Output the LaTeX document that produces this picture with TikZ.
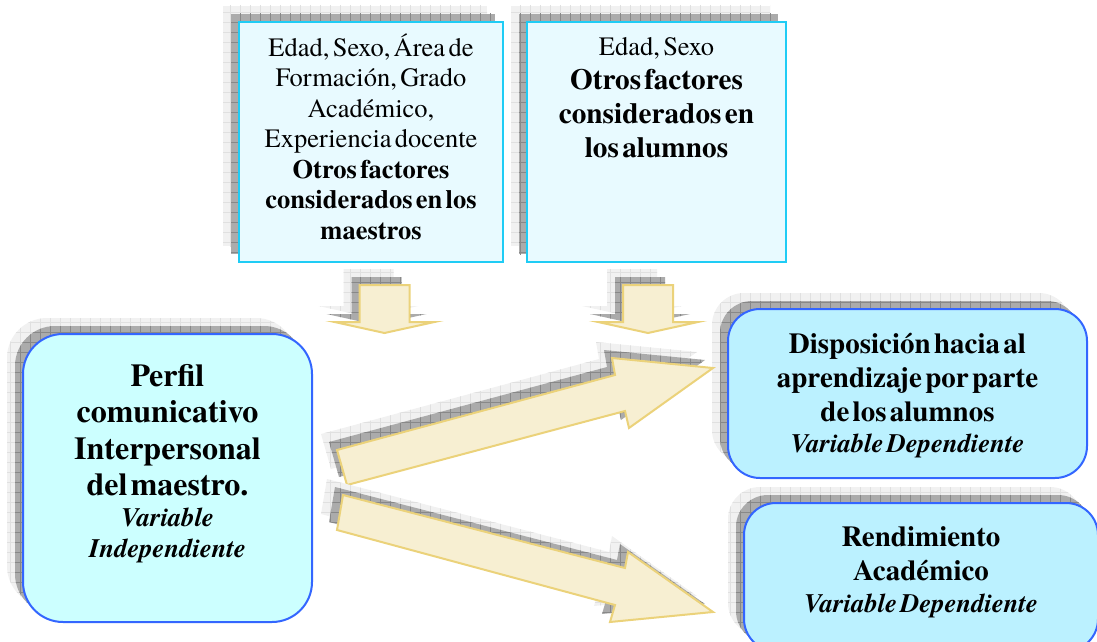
\documentclass[tikz,border=0pt]{standalone}
\usepackage{fontspec}
\setmainfont{texgyretermes}[Extension=.otf,UprightFont=*-regular,BoldFont=*-bold,ItalicFont=*-italic,BoldItalicFont=*-bolditalic,WordSpace=1.25]
\usepackage{tikz}
\usetikzlibrary{shadows}
\usepackage{xcolor}
\usetikzlibrary{patterns.meta}
\usetikzlibrary {arrows.meta,positioning,calc}
\definecolor{FactorBackground}{HTML}{E8FAFF}
\definecolor{FactorBorder}{HTML}{1FCCF5}
\definecolor{PerfilBackground}{HTML}{CCFFFF}
\definecolor{VariableBackground}{HTML}{BBF1FF}
\definecolor{VariableBorder}{HTML}{3366FF}
\definecolor{ArrowBackground}{HTML}{F7EFD2}
\definecolor{ArrowBorder}{HTML}{EBD27A}
\definecolor{ShadowLight}{HTML}{F1F1F1}
\definecolor{ShadowLightGrid}{HTML}{E0E0E0}
\definecolor{ShadowDark}{HTML}{ABABAB}
\definecolor{ShadowDarkGrid}{HTML}{888888}
\newcommand{\FactorSize}{\fontsize{26.5pt}{30.5pt}\selectfont}
\newcommand{\AlumnosSize}{\fontsize{29.3pt}{34pt}\selectfont}
\newcommand{\PerfilSize}{\fontsize{32pt}{36.5pt}\selectfont}
\newcommand{\VariableSize}{\fontsize{29pt}{34pt}\selectfont}
\newcommand{\LabelSize}{\fontsize{26.6pt}{31pt}\selectfont}
\tikzstyle{GridShadow} =[general shadow={fill=ShadowLight,shadow xshift=-16pt,shadow yshift=16pt},
    general shadow={pattern={Hatch[angle=0,distance=10pt,line width=0.6pt]},pattern color=ShadowLightGrid,shadow xshift=-16pt,shadow yshift=16pt},
    general shadow={fill=ShadowDark,shadow xshift=-8pt,shadow yshift=8pt},
    general shadow={pattern={Hatch[angle=0,distance=10pt,line width=0.6pt]},pattern color=ShadowDarkGrid,shadow xshift=-8pt,shadow yshift=8pt}]
\tikzstyle{FactorBox} =[draw=FactorBorder,line width=2pt,fill=FactorBackground,minimum height=240pt,inner sep=0pt,GridShadow]
\tikzstyle{VariableBox} =[draw=VariableBorder,line width=2pt,fill=VariableBackground,rounded corners=32pt,inner sep=0pt,GridShadow]
\tikzstyle{BlockArrow} =[draw=ArrowBorder,line width=2pt,fill=ArrowBackground,GridShadow]
\tikzstyle{BoxText} =[anchor=base,align=center,inner sep=0pt]

\begin{document}
\begin{tikzpicture}[x=1pt,y=-1pt,semithick]
    \path[use as bounding box,clip] (0,0) rectangle (1097,642);

    % factor boxes on top
    \node[FactorBox,minimum width=264pt](Maestros-Factors) at (371,142){};
    \node[FactorBox,minimum width=259pt](Alumnos-Factors) at (656.5,142){};
    \node[BoxText,text width=258pt](Maestros-Text) at ($(Maestros-Factors.north)+(0,35.3)$){\FactorSize Edad, Sexo, Área de\\ Formación, Grado\\ Académico,\\ Experiencia docente\\ \bfseries Otros factores\\ considerados en los\\ maestros\par};
    \node[BoxText,text width=255pt](Alumnos-Text) at ($(Alumnos-Factors.north)+(0,35)$){{\FactorSize Edad, Sexo\par}{\AlumnosSize\bfseries Otros factores\\ considerados en\\ los alumnos\par}};

    % variables
    \node[VariableBox,fill=PerfilBackground,rounded corners=40pt,minimum width=289pt,minimum height=288pt](Perfil-Box) at (167.5,478){};
    \node[VariableBox,minimum width=359pt,minimum height=169pt](Disposicion-Box) at (907.5,393.5){};
    \node[VariableBox,minimum width=354pt,minimum height=148pt](Rendimiento-Box) at (921,577){};
    \node[BoxText,text width=280pt](Perfil-Text) at ($(Perfil-Box.north)+(0,53)$){{\PerfilSize\bfseries Perfil\\ comunicativo\\ Interpersonal\\ del maestro.\par}{\LabelSize\bfseries\itshape Variable\\ Independiente\par}};
    \node[BoxText,text width=345pt](Disposicion-Text) at ($(Disposicion-Box.north)+(0,45)$){{\VariableSize\bfseries Disposición hacia al\\ aprendizaje por parte\\ de los alumnos\par}{\LabelSize\bfseries\itshape Variable Dependiente\par}};
    \node[BoxText,text width=340pt](Rendimiento-Text) at ($(Rendimiento-Box.north)+(0,44)$){{\VariableSize\bfseries Rendimiento\\ Académico\par}{\fontsize{26.6pt}{32pt}\selectfont\bfseries\itshape Variable Dependiente\par}};

    % block arrows
    \foreach \ArrowX in {384.5,648}
        \draw[BlockArrow] (\ArrowX-25,285) -- (\ArrowX+25,285) -- (\ArrowX+25,322) -- (\ArrowX+50,322) -- (\ArrowX,333) -- (\ArrowX-50,322) -- (\ArrowX-25,322) -- cycle;
    \draw[BlockArrow] (337,450) -- (615,375) -- (612,358) -- (713,368) -- (629,428) -- (625,411) -- (347,485) -- cycle;
    \draw[BlockArrow] (343,495) -- (625,568) -- (628,552) -- (713,612) -- (610,622) -- (615,605) -- (337,530) -- cycle;
\end{tikzpicture}
\end{document}
